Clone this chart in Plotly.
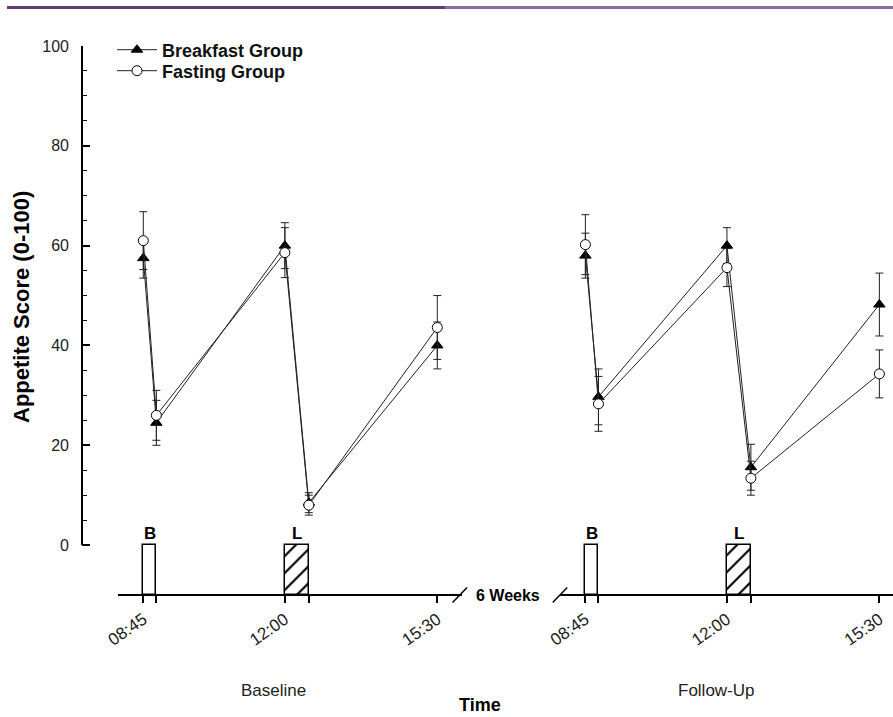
import plotly.graph_objects as go

# ---------------- data ----------------
tick_labels = ["08:45", "12:00", "15:30"]
# measurement times (minutes after midnight) within one test day
time_points = [525, 543, 720, 753, 930]
labelled_times = [525, 720, 930]
# follow-up session is drawn after the "6 Weeks" break (minute offset on the shared axis)
followup_offset = 609

baseline_breakfast = [57.5, 24.5, 60.0, 8.5, 40.0]
baseline_breakfast_err = [4.0, 4.5, 4.6, 2.0, 4.7]
baseline_fasting = [61.0, 26.0, 58.6, 8.0, 43.6]
baseline_fasting_err = [5.8, 5.0, 5.0, 2.0, 6.4]

followup_breakfast = [58.0, 29.7, 60.0, 15.6, 48.2]
followup_breakfast_err = [4.5, 5.6, 3.6, 4.6, 6.3]
followup_fasting = [60.2, 28.3, 55.6, 13.4, 34.3]
followup_fasting_err = [6.0, 5.5, 3.8, 3.4, 4.8]

meal_labels = ["B", "L"]
meal_start = [525, 720]
meal_end = [543, 753]
meal_hatch = ["", "/"]

session_names = ["Baseline", "Follow-Up"]

# ---------------- figure ----------------
FONT = "Liberation Sans, Arial, sans-serif"
W, H = 893, 717
ML, MR, MT, MB = 82, 0, 46, 122
plot_w = W - ML - MR
plot_h = H - MT - MB
px_per_min = 294 / 405.0
x0 = 525 - (143.3 - ML) / px_per_min
x1 = x0 + plot_w / px_per_min
Y0, Y1 = -10, 100


def xp(t):
    return (t - x0) / (x1 - x0)


def yp(v):
    return (v - Y0) / (Y1 - Y0)


fig = go.Figure()

offsets = [0, followup_offset]

# meal bars
bar_x, bar_w, bar_pat = [], [], []
for off in offsets:
    for s, e, p in zip(meal_start, meal_end, meal_hatch):
        bar_x.append(off + (s + e) / 2)
        bar_w.append(e - s)
        bar_pat.append(p)
fig.add_trace(go.Bar(
    x=bar_x, y=[-Y0] * len(bar_x), base=Y0, width=bar_w,
    marker=dict(color="white", line=dict(color="black", width=1.5),
                pattern=dict(shape=bar_pat, fgcolor="black", bgcolor="white",
                             fgopacity=1, size=12, solidity=0.18)),
    showlegend=False, hoverinfo="skip"))

series = [
    ("Breakfast Group", "legend", [baseline_breakfast, followup_breakfast],
     [baseline_breakfast_err, followup_breakfast_err],
     dict(symbol="triangle-up", size=10, color="black", line=dict(color="black", width=1))),
    ("Fasting Group", "legend2", [baseline_fasting, followup_fasting],
     [baseline_fasting_err, followup_fasting_err],
     dict(symbol="circle", size=10, color="white", line=dict(color="black", width=1))),
]

for name, leg, vals, errs, mk in series:
    for i, off in enumerate(offsets):
        fig.add_trace(go.Scatter(
            x=[t + off for t in time_points], y=vals[i],
            mode="lines+markers", name=name, legendgroup=name, legend=leg,
            showlegend=(i == 0), cliponaxis=False,
            line=dict(color="#222222", width=1),
            marker=mk,
            error_y=dict(type="data", array=errs[i], visible=True,
                         color="#222222", thickness=1, width=4),
        ))

# ticks
tickvals, ticktext = [], []
for off in offsets:
    for t in sorted(set(labelled_times + meal_end)):
        tickvals.append(t + off)
        if t in labelled_times:
            ticktext.append(tick_labels[labelled_times.index(t)])
        else:
            ticktext.append("")

minor_vals = [v for v in range(5, 100, 5) if v % 20 != 0]

legend_common = dict(xanchor="left", yanchor="middle", bgcolor="rgba(0,0,0,0)",
                     itemwidth=40, tracegroupgap=0,
                     font=dict(size=18, family=FONT, color="#111", weight="bold"))

fig.update_layout(
    width=W, height=H,
    margin=dict(l=ML, r=MR, t=MT, b=MB, autoexpand=False),
    paper_bgcolor="white", plot_bgcolor="white",
    font=dict(family=FONT, color="black"),
    bargap=0,
    xaxis=dict(range=[x0, x1], showgrid=False, zeroline=False, showline=False,
               automargin=False,
               tickmode="array", tickvals=tickvals, ticktext=ticktext,
               ticks="outside", ticklen=7, tickwidth=1.5, tickcolor="black",
               tickangle=-35, tickfont=dict(size=17, family=FONT, color="#222")),
    yaxis=dict(range=[Y0, Y1], showgrid=False, zeroline=False, showline=False,
               automargin=False,
               tickmode="array", tickvals=[0, 20, 40, 60, 80, 100],
               ticks="inside", ticklen=8, tickwidth=1.5, tickcolor="black",
               ticklabelstandoff=12,
               tickfont=dict(size=16, family=FONT, color="#222"),
               minor=dict(tickmode="array", tickvals=minor_vals, ticks="inside",
                          ticklen=5, tickwidth=1.2, tickcolor="black")),
    legend=dict(x=(112 - ML) / plot_w, y=(MT + plot_h - 50) / plot_h, **legend_common),
    legend2=dict(x=(112 - ML) / plot_w, y=(MT + plot_h - 71) / plot_h, **legend_common),
)

shapes = []
# y-axis line (0..100)
shapes.append(dict(type="line", xref="paper", yref="paper", x0=0, x1=0,
                   y0=yp(0), y1=yp(100), line=dict(color="black", width=2)))
# broken x-axis line
b_start = x0 + (118 - ML) / px_per_min
b_end = time_points[-1] + 34
f_start = followup_offset + time_points[0] - 35
shapes.append(dict(type="line", xref="paper", yref="paper", x0=xp(b_start), x1=xp(b_end),
                   y0=0, y1=0, line=dict(color="black", width=2)))
shapes.append(dict(type="line", xref="paper", yref="paper", x0=xp(f_start), x1=1,
                   y0=0, y1=0, line=dict(color="black", width=2)))
# break slashes
for cx in [b_end - 3, f_start]:
    shapes.append(dict(type="line", xref="paper", yref="paper",
                       x0=xp(cx - 10), x1=xp(cx + 10),
                       y0=-7.5 / plot_h, y1=7.5 / plot_h, line=dict(color="black", width=1.5)))
# header rule
hy = 1 + (MT - 7.5) / plot_h
shapes.append(dict(type="line", xref="paper", yref="paper", x0=-75 / plot_w, x1=(445 - ML) / plot_w,
                   y0=hy, y1=hy, line=dict(color="#5f3d72", width=3)))
shapes.append(dict(type="line", xref="paper", yref="paper", x0=(445 - ML) / plot_w, x1=1,
                   y0=hy, y1=hy, line=dict(color="#8c6a9c", width=3)))
fig.update_layout(shapes=shapes)

ann = []
for off in offsets:
    for lab, s, e in zip(meal_labels, meal_start, meal_end):
        ann.append(dict(x=off + (s + e) / 2, y=0, xref="x", yref="y", text="<b>%s</b>" % lab,
                        showarrow=False, yanchor="bottom", yshift=0,
                        font=dict(size=17, family=FONT)))
for off, nm in zip(offsets, session_names):
    ann.append(dict(x=off + 705, y=-95 / plot_h, xref="x", yref="paper", text=nm,
                    yanchor="middle",
                    showarrow=False, font=dict(size=17, family=FONT, color="#222")))
ann.append(dict(x=989, y=-110 / plot_h, xref="x", yref="paper", text="<b>Time</b>",
                yanchor="middle",
                showarrow=False, font=dict(size=18, family=FONT)))
ann.append(dict(x=1027, y=0, xref="x", yref="paper", text="<b>6 Weeks</b>",
                yanchor="middle",
                showarrow=False, font=dict(size=16, family=FONT)))
ann.append(dict(x=-61 / plot_w, y=(MT + plot_h - 307) / plot_h, xref="paper", yref="paper",
                xanchor="center", yanchor="middle",
                text="<b>Appetite Score (0-100)</b>", textangle=-90,
                showarrow=False, font=dict(size=22, family=FONT)))
fig.update_layout(annotations=ann)

fig.write_html("out.html", config={"displayModeBar": False},
               post_script="document.body.style.margin='0px';")
